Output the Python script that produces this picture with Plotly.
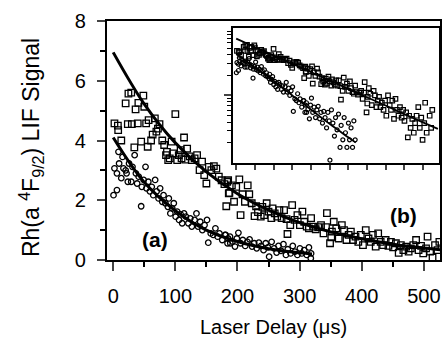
import plotly.graph_objects as go

# Series (b): squares  (delay in microseconds, LIF signal)
sq_t = [2, 7.5, 8, 13, 20, 24.5, 29, 23.5, 30, 34, 36, 39.5, 40.5, 45, 48.5, 50, 53, 55.5, 57, 61,
        63.5, 67, 69.5, 72, 74.5, 79, 82, 85, 86.5, 88.5, 91, 94, 96.5, 100, 103, 105.5, 108.5, 110,
        114, 116, 119, 123, 126.5, 131, 135, 139, 143, 146.5, 150, 154, 158, 162, 166, 170, 174.5,
        179, 182, 186, 185, 183.5, 187, 191, 194.5, 198, 203, 205, 208, 212, 216.5, 219, 223, 227.5,
        230, 233, 237.5, 240, 243, 247, 250, 254.5, 256.5, 260, 264, 267.5, 271, 275, 279, 280.5,
        285, 288, 292, 296.5, 300.5, 304.5, 307.5, 311.5, 315, 318.5, 322, 326, 330, 334.5, 338.5,
        342.5, 344, 349, 351, 352, 355, 359, 363, 368, 371.5, 375.5, 379, 382.5, 386, 390, 394.5,
        398.5, 402, 406.5, 411, 414.5, 418, 422.5, 426.5, 430.5, 434.5, 438.5, 443, 447, 450.5, 455,
        459.5, 463, 467, 471.5, 475.5, 479, 483, 487.5, 491.5, 495.5, 499, 503.5, 506, 510, 514,
        518, 522, 525]
sq_v = [4.57, 4.5, 4.35, 4.0, 5.24, 5.57, 5.6, 4.55, 4.55, 3.77, 5.04, 4.57, 5.26, 3.96, 5.5, 5.13,
        4.57, 3.79, 4.68, 4.0, 4.2, 4.74, 4.3, 4.4, 4.55, 4.0, 3.85, 3.51, 3.62, 3.34, 3.4, 3.96,
        3.57, 4.88, 3.34, 3.51, 3.68, 3.4, 4.1, 3.36, 3.73, 3.47, 3.34, 3.4, 3.51, 3.01, 3.29, 2.84,
        2.56, 3.12, 3.01, 3.14, 3.06, 2.79, 2.67, 2.54, 1.8, 2.23, 2.67, 2.62, 2.25, 2.5, 1.95, 2.45,
        2.7, 1.5, 2.2, 1.95, 2.5, 2.2, 1.9, 1.47, 1.8, 1.6, 1.45, 1.78, 1.5, 1.9, 1.62, 1.4, 1.73,
        1.56, 1.45, 1.67, 1.4, 1.67, 1.37, 0.87, 1.17, 1.84, 1.34, 1.5, 1.17, 1.62, 1.28, 1.12, 1.06,
        1.4, 1.12, 1.03, 1.1, 1.17, 0.89, 1.1, 1.57, 0.56, 0.76, 0.95, 1.28, 1.06, 0.72, 1.17, 1.0,
        0.67, 0.84, 0.95, 0.67, 0.78, 0.61, 0.84, 0.5, 1.0, 0.72, 0.61, 0.84, 0.45, 0.89, 0.61, 0.5,
        0.67, 0.47, 0.61, 0.42, 0.56, 0.24, 0.5, 0.33, 0.45, 0.28, 0.39, 0.5, 0.67, 0.33, 0.47,
        0.22, 0.39, 0.78, 0.28, 0.08, 0.5, 0.33, 0.61]

# Series (a): open circles
ci_t = [0.5, 6, 2, 6, 9.5, 13, 8.5, 15, 16.5, 20, 21.5, 23.5, 25.5, 29, 31, 34.5, 36.5, 38.5, 41,
        45, 46, 49, 52, 53.5, 56.5, 59, 62, 64.5, 67.5, 70, 73, 75.5, 79, 81, 84, 88, 89.5, 92, 95,
        97.5, 100.5, 103, 106, 108.5, 111, 114, 117, 121, 124, 126.5, 131, 134, 136.5, 140, 143.5,
        147, 151, 153, 157, 161, 164.5, 168, 171, 175.5, 180, 184, 188, 192, 181, 185, 188.5, 196,
        199, 201.5, 205, 208.5, 212.5, 216, 219.5, 223.5, 227, 231, 234.5, 238, 242, 245.5, 249,
        251, 255, 259, 263, 266, 270, 274, 278, 281, 285.5, 289, 292.5, 296.5, 300.5, 303.5, 307.5,
        311.5, 315, 318.5, 318]
ci_v = [2.17, 2.34, 3.07, 2.9, 3.23, 2.74, 3.62, 3.45, 3.07, 3.0, 2.9, 2.62, 3.23, 2.62, 3.12,
        3.51, 2.9, 2.56, 2.79, 1.8, 2.45, 2.68, 3.12, 2.4, 2.62, 2.3, 2.45, 2.17, 2.68, 2.3, 2.06,
        2.4, 1.95, 2.17, 1.9, 1.78, 2.06, 1.56, 1.73, 1.9, 1.45, 1.62, 1.34, 1.53, 1.23, 1.56, 1.45,
        1.23, 1.39, 1.12, 1.34, 1.56, 1.12, 1.28, 1.0, 1.17, 1.34, 0.58, 0.89, 0.84, 1.06, 0.78,
        0.89, 0.67, 0.84, 0.56, 0.78, 0.62, 0.84, 0.72, 0.56, 0.45, 0.72, 0.91, 0.56, 0.67, 0.47,
        0.61, 0.69, 0.45, 0.56, 0.39, 0.58, 0.47, 0.33, 0.56, 0.42, 0.11, 0.61, 0.39, 0.25, 0.47,
        0.31, 0.53, 0.17, 0.36, 0.22, 0.47, 0.28, 0.17, 0.39, 0.22, 0.33, 0.17, 0.42, 0.22, 0.06]

# Fitted decay curves
fit_b_t = [0, 50, 100, 150, 200, 250, 300, 350, 400, 450, 500, 540]
fit_b_v = [6.95, 5.22, 3.92, 2.95, 2.22, 1.67, 1.25, 0.94, 0.71, 0.53, 0.40, 0.32]
fit_a_t = [0, 50, 100, 150, 200, 250, 300, 320]
fit_a_v = [4.1, 2.6, 1.65, 1.0, 0.62, 0.38, 0.24, 0.2]

x_ticks = [0, 100, 200, 300, 400, 500]
y_ticks = [0, 2, 4, 6, 8]

FONT = "Liberation Sans, Arial, sans-serif"
BLACK = "black"

fig = go.Figure()

def add_series(xa, ya, size_sq, size_ci, mlw, lw):
    fig.add_trace(go.Scatter(x=sq_t, y=sq_v, mode="markers", xaxis=xa, yaxis=ya,
                             marker=dict(symbol="square-open", size=size_sq, color=BLACK,
                                         line=dict(width=mlw, color=BLACK)), showlegend=False))
    fig.add_trace(go.Scatter(x=ci_t, y=ci_v, mode="markers", xaxis=xa, yaxis=ya,
                             marker=dict(symbol="circle-open", size=size_ci, color=BLACK,
                                         line=dict(width=mlw, color=BLACK)), showlegend=False))
    fig.add_trace(go.Scatter(x=fit_b_t, y=fit_b_v, mode="lines", xaxis=xa, yaxis=ya,
                             line=dict(color=BLACK, width=lw, shape="spline"), showlegend=False))
    fig.add_trace(go.Scatter(x=fit_a_t, y=fit_a_v, mode="lines", xaxis=xa, yaxis=ya,
                             line=dict(color=BLACK, width=lw, shape="spline"), showlegend=False))

add_series("x", "y", 6.5, 5.5, 1.3, 3)
add_series("x2", "y2", 4.5, 4, 1.2, 1.8)

fig.update_layout(
    width=443, height=339,
    margin=dict(l=107, r=1, t=21, b=79),
    paper_bgcolor="white", plot_bgcolor="white",
    font=dict(family=FONT, color=BLACK, size=20),
    xaxis=dict(range=[-10, 526], tickvals=x_ticks, ticks="outside", ticklen=9, tickwidth=2,
               showline=True, linewidth=2.2, linecolor=BLACK, mirror=True, showgrid=False,
               zeroline=False, tickfont=dict(size=20), ticklabelstandoff=8,
               minor=dict(tickvals=[50, 150, 250, 350, 450], ticks="outside", ticklen=5,
                          tickwidth=2, tickcolor=BLACK),
               title=dict(text="Laser Delay (μs)", font=dict(size=20), standoff=14)),
    yaxis=dict(range=[0, 8], tickvals=y_ticks, ticks="outside", ticklen=8, tickwidth=2,
               showline=True, linewidth=2.2, linecolor=BLACK, mirror=True, showgrid=False,
               zeroline=False, tickfont=dict(size=20), ticklabelstandoff=7,
               minor=dict(tickvals=[1, 3, 5, 7], ticks="outside", ticklen=5, tickwidth=2,
                          tickcolor=BLACK)),
    xaxis2=dict(domain=[0.379, 0.997], anchor="y2", range=[-8, 543],
                tickvals=[0, 50, 100, 150, 200, 250, 300, 350, 400, 450, 500],
                showticklabels=False, ticks="outside", ticklen=5, tickwidth=1.5,
                showline=True, linewidth=1.8, linecolor=BLACK, mirror=True, showgrid=False,
                zeroline=False),
    yaxis2=dict(domain=[0.406, 0.971], anchor="x2", type="log", range=[-1, 1],
                tickvals=[1], showticklabels=False, ticks="outside", ticklen=7, tickwidth=1.5,
                showline=True, linewidth=1.8, linecolor=BLACK, mirror=True, showgrid=False,
                zeroline=False,
                minor=dict(tickvals=[0.2, 0.3, 0.4, 0.5, 0.6, 0.7, 0.8, 0.9,
                                     2, 3, 4, 5, 6, 7, 8, 9],
                           ticks="outside", ticklen=4, tickwidth=1.2, tickcolor=BLACK)),
    annotations=[
        dict(text="Rh(a <sup>4</sup>F<sub>9/2</sub>) LIF Signal", textangle=-90,
             xref="paper", yref="paper", x=-0.23, y=0.47, xanchor="center", yanchor="middle",
             showarrow=False, font=dict(size=23)),
        dict(text="<b>(a)</b>", xref="x", yref="y", x=67, y=0.67, showarrow=False,
             font=dict(size=21)),
        dict(text="<b>(b)</b>", xref="x", yref="y", x=467, y=1.5, showarrow=False,
             font=dict(size=21)),
    ],
)

fig.write_html("out.html", config={"displayModeBar": False},
               post_script="document.body.style.margin='0px';")
